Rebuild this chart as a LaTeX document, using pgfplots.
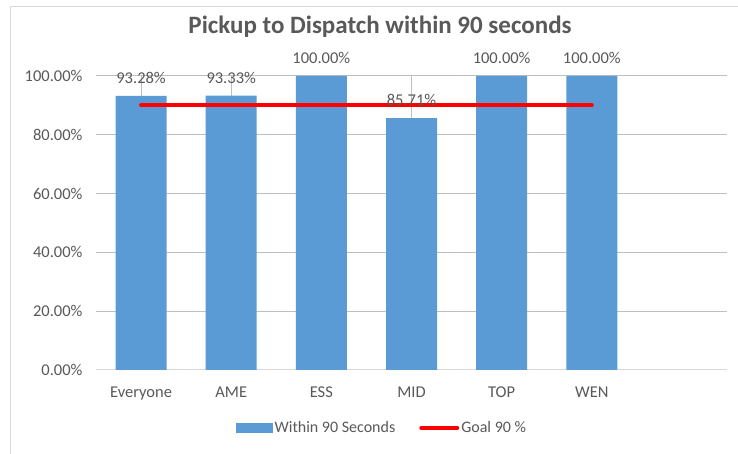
\documentclass[border=0pt]{standalone}
\usepackage{pgfplots}
\pgfplotsset{compat=1.18}
\usepackage{fontspec}
\setmainfont{Carlito}
\definecolor{barblue}{HTML}{5B9BD5}
\definecolor{txt}{HTML}{595959}
\definecolor{grid}{HTML}{D9D9D9}
\begin{document}
\begin{tikzpicture}[x=1pt,y=1pt]
\useasboundingbox (0,0) rectangle (738,454);
\fill[white] (0,0) rectangle (738,454);
\draw[grid, line width=1pt] (10,0) -- (10,447.5) -- (738,447.5);
\node[text=txt, font=\fontsize{25}{30}\selectfont\bfseries] at (380,427) {Pickup to Dispatch within 90 seconds};
\begin{axis}[
  at={(96pt,84pt)}, anchor=south west,
  scale only axis, width=631pt, height=294pt,
  xmin=-0.5, xmax=6.5, ymin=0, ymax=100,
  axis line style={draw=none},
  axis x line*=bottom,
  ytick={0,20,40,60,80,100},
  xtick={0,1,2,3,4,5},
  xticklabels={Everyone,AME,ESS,MID,TOP,WEN},
  major tick length=0pt,
  ymajorgrids, grid style={grid, line width=1pt},
  /pgf/number format/assume math mode=true,
  yticklabel={\pgfmathprintnumber[fixed,fixed zerofill,precision=2]{\tick}\%},
  tick label style={text=txt, font=\fontsize{16.5}{19}\selectfont},
  yticklabel style={xshift=-10pt},
  xticklabel style={anchor=base, yshift=-28pt},
  ybar, bar width=51pt,
  legend style={at={(0.453,-0.197)}, anchor=center, draw=none, legend columns=2,
    font=\fontsize{16}{19}\selectfont, text=txt,
    /tikz/every even column/.append style={column sep=22pt}},
  clip=false,
]
\draw[grid, line width=1pt] (rel axis cs:0,0) -- (rel axis cs:1,0);
\addplot[fill=barblue, draw=none,
  nodes near coords={\pgfmathprintnumber[fixed,fixed zerofill,precision=2]{\pgfplotspointmeta}\%},
  every node near coord/.append style={anchor=center, yshift=18pt, text=txt, font=\fontsize{16.5}{19}\selectfont},
  legend image code/.code={\fill[barblue] (0pt,-5pt) rectangle (37pt,5pt);}
] coordinates {(0,93.28) (1,93.33) (2,100) (3,85.71) (4,100) (5,100)};
\addlegendentry{Within 90 Seconds}
\addplot[sharp plot, red, line width=4pt, line cap=round,
  legend image code/.code={\draw[red, line width=4pt, line cap=round] (0pt,0pt) -- (36pt,0pt);}
] coordinates {(0,90) (1,90) (2,90) (3,90) (4,90) (5,90)};
\addlegendentry{Goal 90 \%}
\end{axis}
\end{tikzpicture}
\end{document}
